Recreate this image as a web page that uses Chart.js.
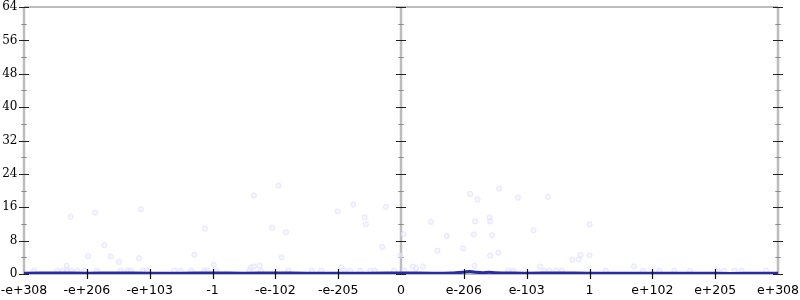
<!DOCTYPE html>
<html>
<head>
<meta charset="utf-8">
<script src="https://cdn.jsdelivr.net/npm/chart.js@4.4.0/dist/chart.umd.min.js"></script>
<style>
html,body{margin:0;padding:0;background:#fff;}
#wrap{width:800px;height:300px;position:relative;}
</style>
</head>
<body>
<div id="wrap"><canvas id="c" width="800" height="300"></canvas></div>
<script>
// x positions are tick indices (-6 .. 6) on a symmetric log-of-log style axis
const xTickValues = [-6,-5,-4,-3,-2,-1,0,1,2,3,4,5,6];
const xTickLabels = ['-e+308','-e+206','-e+103','-1','-e-102','-e-205','0','e-206','e-103','1','e+102','e+205','e+308'];
const yTickValues = [0,8,16,24,32,40,48,56,64];
const yMinorValues = [4,12,20,28,36,44,52,60];

// main density line
const lineX = [-6,-5.5,-5,-4.5,-4,-3.5,-3,-2.5,-2,-1.5,-1,-0.5,0,0.5,0.8,1.0,1.1,1.2,1.3,1.4,1.5,1.7,2,2.5,3,3.5,4,4.5,5,5.5,6];
const lineY = [0.2,0.25,0.2,0.25,0.2,0.2,0.25,0.2,0.25,0.2,0.2,0.2,0.25,0.2,0.25,0.45,0.6,0.4,0.3,0.4,0.3,0.25,0.2,0.25,0.2,0.2,0.15,0.2,0.15,0.15,0.15];

// faint scattered samples
const dotX = [-5.26,-4.87,-4.14,-3.12,-4.72,-4.98,-4.62,-4.49,-4.17,-3.29,-5.32,
  -5.84,-5.47,-5.38,-5.31,-5.25,-5.15,-5.04,-4.84,-4.46,-4.35,-4.30,-4.11,-4.04,-3.61,-3.51,-3.34,-3.13,-3.08,
  -2.98,-2.34,-1.95,-2.05,-1.83,-1.90,-1.01,-0.76,-0.58,-0.56,-0.24,-0.30,-0.01,-0.95,-2.39,-2.34,-2.25,
  -2.94,-2.41,-2.23,-1.79,-1.42,-1.27,-0.90,-0.81,-0.65,-0.49,-0.42,-0.11,
  0.04,0.19,0.24,0.35,0.48,0.58,0.73,0.99,1.10,1.22,1.18,1.16,1.17,1.41,1.42,1.45,1.42,1.55,1.56,1.86,2.11,2.34,2.21,2.73,2.83,2.86,3.00,3.00,
  0.05,1.71,1.79,2.28,2.36,2.47,2.56,
  3.71,3.26,3.85,4.11,4.35,4.60,5.04,5.14,5.31,5.42,5.81];
const dotY = [13.7,14.7,15.5,10.9,6.9,4.3,4.2,2.9,3.8,4.6,2.0,
  0.8,0.8,0.8,0.8,0.8,0.8,0.8,0.8,0.8,0.8,0.8,0.8,0.8,0.8,0.8,0.8,0.8,0.8,
  2.2,18.8,21.2,11.1,10.0,4.0,15.0,16.7,13.6,11.9,16.1,6.5,4.4,1.6,1.6,1.8,2.0,
  0.8,0.8,0.8,0.8,0.8,0.8,0.8,0.8,0.8,0.8,0.8,0.8,
  9.5,1.8,1.4,1.8,12.5,5.6,9.1,6.1,19.2,17.9,12.6,9.5,2.0,13.6,12.6,9.3,4.4,5.1,20.5,18.3,10.5,18.5,1.8,3.4,3.5,4.6,11.9,4.5,
  0.8,0.8,0.8,0.8,0.8,0.8,0.8,
  1.8,0.8,0.8,0.8,0.8,0.8,0.8,0.8,0.8,0.8,0.8];

const axisPlugin = {
  id: 'axisDeco',
  beforeDatasetsDraw(chart) {
    const {ctx, chartArea: a, scales: {x, y}} = chart;
    ctx.save();
    ctx.strokeStyle = '#bdbdbd';
    ctx.lineWidth = 2;
    ctx.beginPath();
    ctx.moveTo(a.left, a.top); ctx.lineTo(a.right, a.top);
    ctx.moveTo(a.left, a.bottom); ctx.lineTo(a.right, a.bottom);
    ctx.stroke();
    const verticals = [x.getPixelForValue(-6), x.getPixelForValue(0), x.getPixelForValue(6)];
    ctx.lineWidth = 2.5;
    ctx.beginPath();
    verticals.forEach(px => { ctx.moveTo(px, a.top); ctx.lineTo(px, a.bottom); });
    ctx.stroke();
    // minor ticks
    ctx.strokeStyle = '#8a8a8a';
    ctx.lineWidth = 1;
    ctx.beginPath();
    verticals.forEach(px => {
      yMinorValues.forEach(v => {
        const py = Math.round(y.getPixelForValue(v)) + 0.5;
        ctx.moveTo(px - 2.7, py); ctx.lineTo(px + 2.7, py);
      });
    });
    ctx.stroke();
    // major ticks
    ctx.strokeStyle = '#222';
    ctx.lineWidth = 1.2;
    ctx.beginPath();
    verticals.forEach(px => {
      yTickValues.forEach(v => {
        const py = Math.round(y.getPixelForValue(v)) + 0.5;
        ctx.moveTo(px - 5, py); ctx.lineTo(px + 5, py);
      });
    });
    ctx.stroke();
    ctx.restore();
  },
  afterDatasetsDraw(chart) {
    const {ctx, chartArea: a, scales: {x}} = chart;
    ctx.save();
    ctx.strokeStyle = '#111';
    ctx.lineWidth = 1.2;
    ctx.beginPath();
    xTickValues.forEach(v => {
      if (v === -6 || v === 0 || v === 6) return;
      const px = Math.round(x.getPixelForValue(v)) + 0.5;
      ctx.moveTo(px, a.bottom - 5); ctx.lineTo(px, a.bottom + 5);
    });
    ctx.stroke();
    ctx.restore();
  }
};

new Chart(document.getElementById('c'), {
  data: {
    datasets: [
      {
        type: 'line',
        data: lineX.map((v, i) => ({x: v, y: lineY[i]})),
        borderColor: '#2a2aa6',
        borderWidth: 3,
        pointRadius: 0,
        tension: 0.3,
        fill: false
      },
      {
        type: 'scatter',
        data: dotX.map((v, i) => ({x: v, y: dotY[i]})),
        backgroundColor: 'rgba(236,236,255,0.55)',
        borderColor: 'rgba(215,215,252,0.55)',
        borderWidth: 1,
        pointRadius: 2.6
      }
    ]
  },
  options: {
    responsive: false,
    animation: false,
    layout: {padding: {top: 7, right: 22, left: 0, bottom: 0}},
    plugins: {legend: {display: false}, tooltip: {enabled: false}},
    scales: {
      x: {
        type: 'linear',
        min: -6, max: 6,
        grid: {display: false, drawTicks: false},
        border: {display: false},
        afterBuildTicks: s => { s.ticks = xTickValues.map(v => ({value: v})); },
        afterFit: s => { s.height = 26; s.paddingLeft = 0; s.paddingRight = 0; },
        ticks: {
          autoSkip: false, maxRotation: 0, padding: 9,
          color: '#000',
          font: {family: 'DejaVu Sans', size: 12.5},
          callback: (v) => xTickLabels[xTickValues.indexOf(v)]
        }
      },
      y: {
        min: 0, max: 64,
        grid: {display: false, drawTicks: false},
        border: {display: false},
        afterBuildTicks: s => { s.ticks = yTickValues.map(v => ({value: v})); },
        afterFit: s => { s.width = 24; s.paddingTop = 0; s.paddingBottom = 0; },
        ticks: {
          padding: 6.5,
          color: '#000',
          font: {family: 'DejaVu Serif', size: 12}
        }
      }
    }
  },
  plugins: [axisPlugin]
});
</script>
</body>
</html>
